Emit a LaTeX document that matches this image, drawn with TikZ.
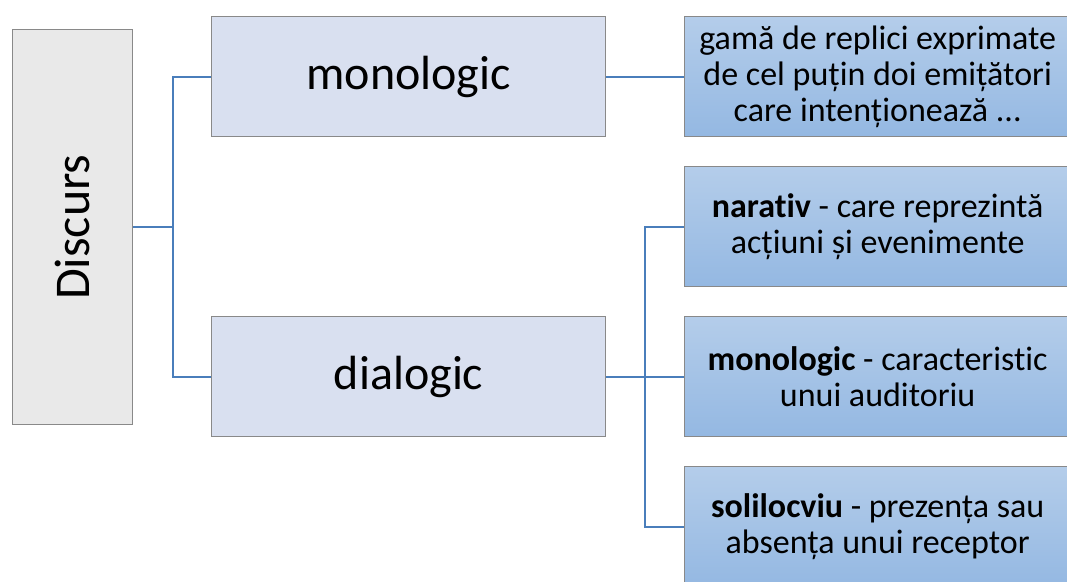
\documentclass[tikz,border=0pt]{standalone}
\usepackage{fontspec}
\usepackage{graphicx}
\setmainfont{Carlito}[Ligatures=NoCommon]
\definecolor{boxgray}{RGB}{137,137,137}
\definecolor{discfill}{RGB}{233,233,233}
\definecolor{midfill}{RGB}{217,224,240}
\definecolor{leaftop}{RGB}{180,205,234}
\definecolor{leafbot}{RGB}{148,184,226}
\definecolor{connblue}{RGB}{74,126,187}
\begin{document}
\begin{tikzpicture}[x=1pt,y=-1pt,
  basebox/.style={draw=boxgray, line width=1.3pt, rectangle, anchor=north west, inner sep=0pt},
  discbox/.style={basebox, fill=discfill, minimum width=120pt, minimum height=395pt},
  midbox/.style={basebox, fill=midfill, minimum width=394pt, minimum height=120pt,
    font=\fontsize{48}{52}\selectfont},
  leafbox/.style={basebox, top color=leaftop, bottom color=leafbot, minimum width=386pt,
    minimum height=120pt, align=center,
    font=\fontsize{34}{36}\selectfont},
  conn/.style={draw=connblue, line width=2.2pt}]
\useasboundingbox (0,0) rectangle (1067,581);
\clip (0,0) rectangle (1067,581);

% root
\node[discbox] (disc) at (12,29) {\rotatebox{90}{\fontsize{50}{52}\selectfont Discurs}};

% second level
\node[midbox] (mono) at (211,16) {monologic};
\node[midbox] (dial) at (211,316) {dialogic};

% leaves
\node[leafbox] (r1) at (684,16) {gamă de replici exprimate\\de cel puțin doi emițători\\care intenționează ...};
\node[leafbox] (r2) at (684,166) {\textbf{narativ} - care reprezintă\\acțiuni și evenimente};
\node[leafbox] (r3) at (684,316) {\textbf{monologic} - caracteristic\\unui auditoriu};
\node[leafbox] (r4) at (684,466) {\textbf{solilocviu} - prezența sau\\absența unui receptor};

% connectors
\draw[conn] (disc.east) -- ++(40,0) |- (mono.west);
\draw[conn] (disc.east) -- ++(40,0) |- (dial.west);
\draw[conn] (mono.east) -- (r1.west);
\draw[conn] (dial.east) -- ++(39,0) |- (r2.west);
\draw[conn] (dial.east) -- (r3.west);
\draw[conn] (dial.east) -- ++(39,0) |- (r4.west);
\end{tikzpicture}
\end{document}
